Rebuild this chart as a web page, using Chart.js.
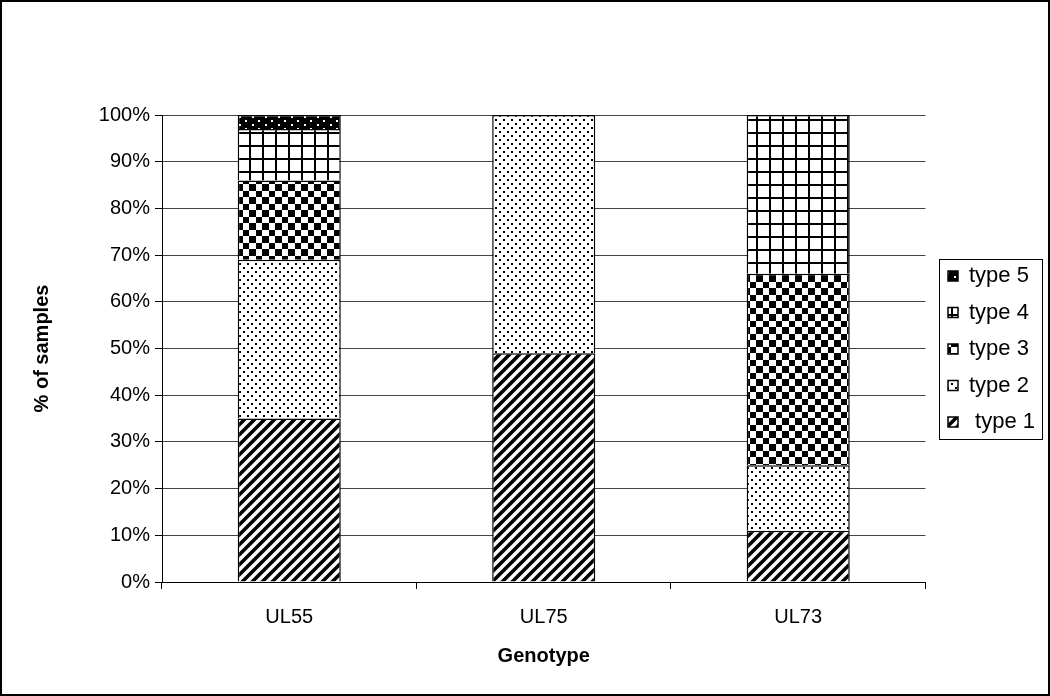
<!DOCTYPE html>
<html>
<head>
<meta charset="utf-8">
<script src="https://cdn.jsdelivr.net/npm/chart.js@4/dist/chart.umd.min.js"></script>
<style>
  body { margin: 0; background: #fff; }
  #wrap { width: 1050px; height: 696px; box-sizing: border-box; border: 2px solid #000; }
  canvas { display: block; }
</style>
</head>
<body>
<div id="wrap"><canvas id="chart" width="1046" height="692"></canvas></div>
<script>
// Data
const genotypes = ["UL55", "UL75", "UL73"];
const seriesNames = [" type 1", "type 2", "type 3", "type 4", "type 5"];
const type1 = [35, 49, 11];
const type2 = [34, 51, 14];
const type3 = [17, 0, 41];
const type4 = [11, 0, 34];
const type5 = [3, 0, 0];
const yTicks = [0, 10, 20, 30, 40, 50, 60, 70, 80, 90, 100];

const FONT = "'Liberation Sans', Arial, sans-serif";

// small tile patterns like the old excel fills
function makePattern(w, h, draw) {
    const c = document.createElement("canvas");
    c.width = w;
    c.height = h;
    const g = c.getContext("2d");
    draw(g, w, h);
    return g.createPattern(c, "repeat");
}

const stripes = makePattern(10, 10, (g) => {
    g.fillStyle = "#fff";
    g.fillRect(0, 0, 10, 10);
    g.strokeStyle = "#000";
    g.lineWidth = 3.6;
    g.beginPath();
    g.moveTo(-2, 12); g.lineTo(12, -2);
    g.moveTo(-2, 2); g.lineTo(2, -2);
    g.moveTo(8, 12); g.lineTo(12, 8);
    g.stroke();
});

const dots = makePattern(8, 8, (g) => {
    g.fillStyle = "#fff";
    g.fillRect(0, 0, 8, 8);
    g.fillStyle = "#000";
    g.fillRect(1, 1, 2, 2);
    g.fillRect(5, 5, 2, 2);
});

const checker = makePattern(13, 13, (g) => {
    g.fillStyle = "#fff";
    g.fillRect(0, 0, 13, 13);
    g.fillStyle = "#000";
    g.fillRect(0, 0, 7, 7);
    g.fillRect(7, 7, 6, 6);
});

const grid = makePattern(13, 13, (g) => {
    g.fillStyle = "#fff";
    g.fillRect(0, 0, 13, 13);
    g.fillStyle = "#000";
    g.fillRect(0, 0, 2, 13);
    g.fillRect(0, 0, 13, 2);
});

const darkDots = makePattern(13, 8, (g) => {
    g.fillStyle = "#000";
    g.fillRect(0, 0, 13, 8);
    g.fillStyle = "#fff";
    g.fillRect(3, 2, 2, 2);
    g.fillRect(9, 6, 2, 2);
});

// put the legend where excel had it and draw a box round it
const legendBorder = {
    id: "legendBorder",
    afterLayout(chart) {
        const L = chart.legend;
        const w = L.width;
        L.left = 931.5;
        L.right = 931.5 + w;
        L.top = 0;
        L.bottom = 694;
        L.height = 694;
    },
    afterDraw(chart) {
        const boxes = chart.legend.legendHitBoxes;
        if (!boxes || !boxes.length) return;
        let x1 = Infinity, y1 = Infinity, y2 = -Infinity;
        boxes.forEach((b) => {
            x1 = Math.min(x1, b.left);
            y1 = Math.min(y1, b.top);
            y2 = Math.max(y2, b.top + b.height);
        });
        const ctx = chart.ctx;
        ctx.save();
        ctx.strokeStyle = "#000";
        ctx.lineWidth = 1;
        ctx.strokeRect(Math.round(x1 - 9) + 0.5, Math.round(y1 - 6) + 0.5,
            103, Math.round(y2 - y1 + 12));
        ctx.restore();
    },
};

function ds(label, data, fill) {
    return {
        label: label,
        data: data,
        backgroundColor: fill,
        borderColor: "#000",
        borderWidth: 1.5,
        barPercentage: 0.405,
        categoryPercentage: 1,
    };
}

new Chart(document.getElementById("chart"), {
    type: "bar",
    data: {
        labels: genotypes,
        datasets: [
            ds(seriesNames[0], type1, stripes),
            ds(seriesNames[1], type2, dots),
            ds(seriesNames[2], type3, checker),
            ds(seriesNames[3], type4, grid),
            ds(seriesNames[4], type5, darkDots),
        ],
    },
    options: {
        responsive: false,
        animation: false,
        layout: { padding: { top: 113, left: 24, bottom: 22, right: 11 } },
        plugins: {
            tooltip: { enabled: false },
            legend: {
                position: "right",
                reverse: true,
                labels: {
                    color: "#000",
                    font: { family: FONT, size: 22 },
                    boxWidth: 10,
                    boxHeight: 10,
                    padding: 14.5,
                },
            },
        },
        scales: {
            x: {
                stacked: true,
                grid: { drawOnChartArea: false, color: "#000", tickLength: 7 },
                border: { color: "#000", width: 1 },
                ticks: { color: "#000", font: { family: FONT, size: 20 }, padding: 16 },
                title: {
                    display: true,
                    text: "Genotype",
                    color: "#000",
                    font: { family: FONT, size: 20, weight: "bold" },
                    padding: { top: 4, bottom: 4 },
                },
                afterFit(scale) { scale.height = 90; },
            },
            y: {
                stacked: true,
                min: 0,
                max: 100,
                afterBuildTicks(scale) { scale.ticks = yTicks.map((v) => ({ value: v })); },
                grid: { color: "#444", tickColor: "#000", tickLength: 7 },
                border: { color: "#000", width: 1 },
                ticks: {
                    color: "#000",
                    font: { family: FONT, size: 20 },
                    padding: 5,
                    callback: (v) => v + "%",
                },
                title: {
                    display: true,
                    text: "% of samples",
                    color: "#000",
                    font: { family: FONT, size: 20, weight: "bold" },
                    padding: { top: 4, bottom: 4 },
                },
                afterFit(scale) { scale.width = 136; },
            },
        },
    },
    plugins: [legendBorder],
});
</script>
</body>
</html>
